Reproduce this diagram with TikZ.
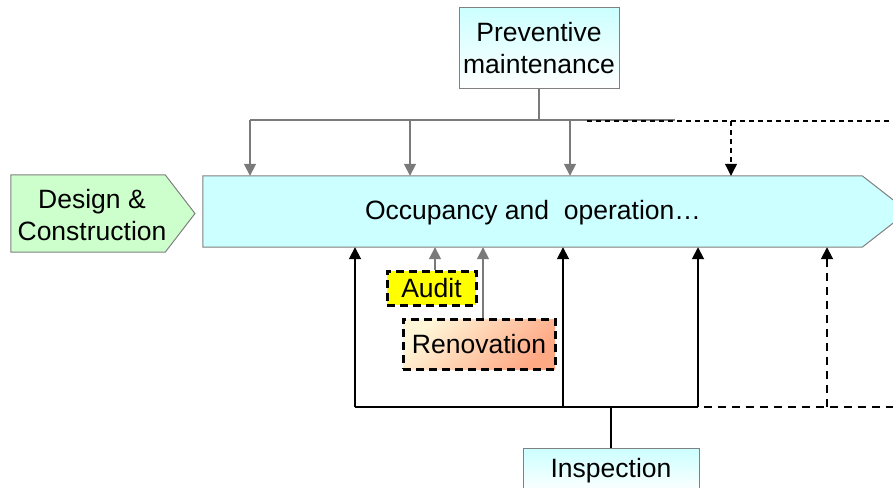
\documentclass[tikz,border=0pt]{standalone}
\usepackage{fontspec}
\setmainfont{Liberation Sans}
\usetikzlibrary{arrows.meta}
\definecolor{cyanfill}{HTML}{CCFFFF}
\definecolor{greenfill}{HTML}{CCFFCC}
\definecolor{edgegray}{HTML}{808080}
\definecolor{linegray}{HTML}{7A7A7A}
\definecolor{audityellow}{HTML}{FFFF00}
\definecolor{renolight}{HTML}{FFF6D8}
\definecolor{renodark}{HTML}{FFA884}
\tikzset{
  txt/.style={font=\fontsize{26.5}{32}\selectfont, align=center, inner sep=0pt},
  gradbox/.style={txt, draw=edgegray, line width=1pt, top color=cyanfill, bottom color=white},
  dashbox/.style={txt, draw=black, line width=3pt, dash pattern=on 8pt off 5pt},
  tip/.style={-{Triangle[length=12pt,width=12pt]}},
  topline/.style={draw=linegray, line width=1.6pt},
  topdash/.style={draw=black, line width=1.1pt, dash pattern=on 5pt off 4pt},
  botline/.style={draw=black, line width=1.8pt},
  botdash/.style={draw=black, line width=1.8pt, dash pattern=on 8pt off 6pt},
  shapeedge/.style={draw=edgegray, line width=1pt}
}
\begin{document}
\begin{tikzpicture}[x=1pt, y=-1pt]
\useasboundingbox (0,0) rectangle (893,487);

% Occupancy big arrow
\node[txt, minimum width=659pt, minimum height=71pt] (occ) at (532.5,211.5) {};
\path[shapeedge, fill=cyanfill] (occ.north west) -- (occ.north east) -- (908,211.5) -- (occ.south east) -- (occ.south west) -- cycle;
\node[txt] (occtext) at (533,213) {Occupancy and\ \ operation…};

% Design & Construction
\node[txt, minimum width=154pt, minimum height=77pt] (dc) at (88,213.5) {};
\path[shapeedge, fill=greenfill] (dc.north west) -- (dc.north east) -- (195,213.5) -- (dc.south east) -- (dc.south west) -- cycle;
\node[txt] (dctext) at (92,215) {Design \&\\Construction};

% Preventive maintenance
\node[gradbox, minimum width=160pt, minimum height=80pt] (pm) at (539,48) {Preventive\\maintenance};

% Top bus
\coordinate (pmb) at (539,120);
\coordinate (t1) at (250,120);
\coordinate (t2) at (410,120);
\coordinate (t3) at (570,120);
\coordinate (tend) at (675,120);
\coordinate (d0) at (587,121);
\coordinate (d1) at (731,121);
\coordinate (dend) at (893,121);
\draw[topline] (pm.south) -- (pmb);
\draw[topline] (t1) -- (tend);
\draw[topdash] (d0) -- (dend);
\draw[topline, tip] (t1) -- (t1 |- occ.north);
\draw[topline, tip] (t2) -- (t2 |- occ.north);
\draw[topline, tip] (t3) -- (t3 |- occ.north);
\draw[topdash, tip] (d1) -- (d1 |- occ.north);

% Audit and Renovation
\node[dashbox, fill=audityellow, minimum width=89pt, minimum height=34pt] (audit) at (431.5,288) {Audit};
\node[dashbox, top color=renolight, bottom color=renodark, shading angle=45, minimum width=152pt, minimum height=50pt] (reno) at (479,344) {Renovation};
\draw[topline, tip] (audit.north -| 435,0) -- (435,0 |- occ.south);
\draw[topline, tip] (reno.north -| 483,0) -- (483,0 |- occ.south);

% Inspection
\node[gradbox, anchor=north, minimum width=176pt, minimum height=44pt] (insp) at (611,448) {Inspection};

% Bottom bus
\coordinate (b1) at (355,407);
\coordinate (b2) at (563,407);
\coordinate (bi) at (611,407);
\coordinate (b3) at (698,407);
\coordinate (b4) at (827,407);
\coordinate (bmid) at (690,407);
\coordinate (bend) at (893,407);
\draw[botline] (insp.north) -- (bi);
\draw[botline] (b1) -- (bmid);
\draw[botdash] (bmid) -- (bend);
\draw[botline, tip] (b1) -- (b1 |- occ.south);
\draw[botline, tip] (b2) -- (b2 |- occ.south);
\draw[botline, tip] (b3) -- (b3 |- occ.south);
\draw[botdash, tip] (b4) -- (b4 |- occ.south);
\end{tikzpicture}
\end{document}
